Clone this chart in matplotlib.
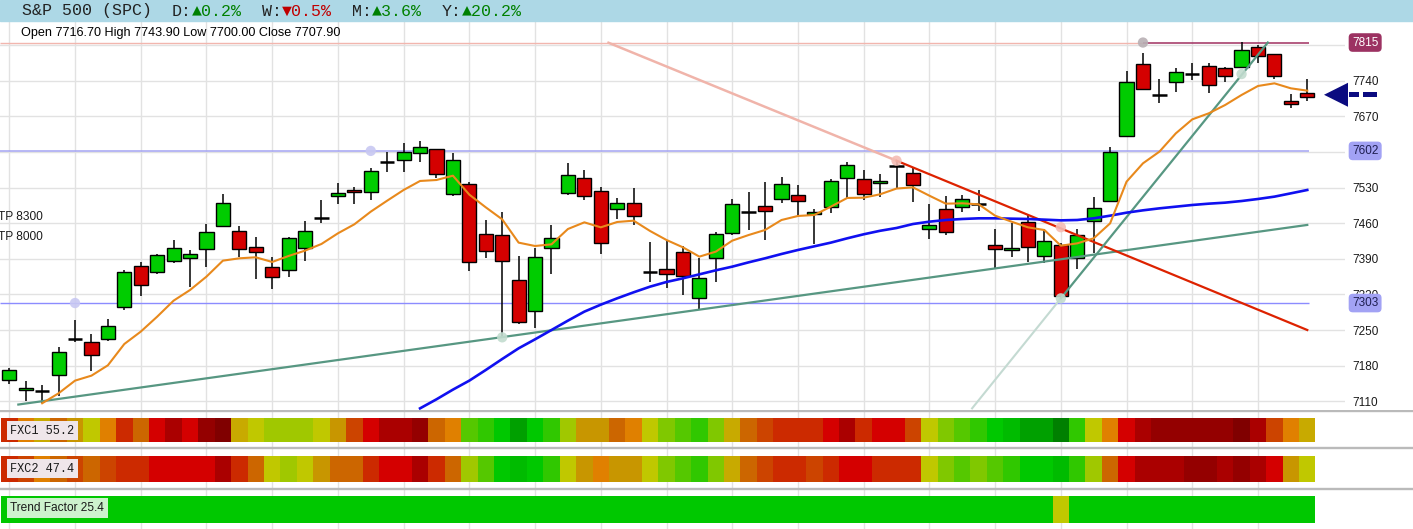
import numpy as np
import matplotlib
matplotlib.use("Agg")
import matplotlib.pyplot as plt
from matplotlib.patches import Rectangle, Polygon

W, H, DPI = 1413, 529, 100

# ---------------- data ----------------
opens = [7151.8, 7132.1, 7131.0, 7160.9, 7231.5, 7226.5, 7233.0, 7294.6, 7375.2, 7363.4,
         7385.0, 7390.9, 7408.6, 7453.8, 7443.9, 7412.5, 7373.2, 7367.3, 7410.5, 7470.8,
         7512.7, 7524.5, 7520.6, 7580.2, 7583.5, 7597.2, 7605.1, 7516.7, 7536.3, 7438.1,
         7436.1, 7347.6, 7286.7, 7410.5, 7519.3, 7548.1, 7522.6, 7487.2, 7499.0, 7363.4,
         7369.3, 7402.7, 7312.3, 7390.9, 7440.0, 7481.3, 7493.1, 7506.8, 7514.7, 7477.4,
         7491.1, 7548.1, 7546.1, 7538.3, 7572.3, 7557.9, 7447.8, 7487.2, 7491.1, 7497.6,
         7416.4, 7406.6, 7462.3, 7395.4, 7416.4, 7390.9, 7463.6, 7504.2, 7632.0, 7772.1,
         7712.5, 7736.7, 7752.5, 7768.2, 7765.6, 7766.9, 7806.9, 7791.8, 7700.1, 7716.7]
highs = [7174.7, 7149.8, 7142.0, 7216.6, 7269.7, 7242.2, 7271.7, 7368.0, 7383.7, 7399.4,
         7426.9, 7407.3, 7458.4, 7517.3, 7453.8, 7432.8, 7392.9, 7433.5, 7464.3, 7505.5,
         7538.9, 7531.7, 7569.1, 7600.5, 7616.9, 7620.8, 7606.5, 7598.6, 7540.9, 7466.2,
         7482.0, 7395.5, 7411.8, 7455.8, 7578.2, 7564.5, 7530.4, 7509.5, 7528.5, 7423.0,
         7425.6, 7415.8, 7392.2, 7442.6, 7507.5, 7521.3, 7540.9, 7550.7, 7535.0, 7487.8,
         7546.1, 7579.6, 7564.5, 7556.6, 7582.8, 7569.0, 7497.6, 7513.4, 7514.7, 7524.5,
         7448.5, 7461.0, 7476.0, 7447.8, 7420.3, 7447.8, 7510.7, 7609.0, 7759.0, 7793.7,
         7742.6, 7764.3, 7774.1, 7774.1, 7766.2, 7816.7, 7810.8, 7792.4, 7713.8, 7743.9]
lows = [7143.9, 7111.2, 7107.2, 7120.3, 7225.8, 7170.1, 7229.1, 7290.0, 7317.5, 7360.1,
        7382.4, 7335.2, 7373.2, 7451.8, 7393.5, 7350.9, 7331.3, 7354.9, 7386.3, 7461.0,
        7498.3, 7498.3, 7505.5, 7560.6, 7561.2, 7580.9, 7549.4, 7514.0, 7366.6, 7391.5,
        7235.6, 7262.5, 7254.6, 7360.8, 7514.7, 7506.2, 7400.1, 7467.5, 7457.1, 7345.0,
        7333.2, 7319.5, 7291.3, 7345.0, 7436.1, 7447.2, 7426.3, 7499.0, 7476.7, 7419.1,
        7479.3, 7508.8, 7504.9, 7512.1, 7527.8, 7502.2, 7429.5, 7437.4, 7482.6, 7483.9,
        7372.5, 7393.5, 7383.0, 7381.0, 7312.2, 7369.2, 7400.7, 7501.6, 7630.0, 7721.0,
        7696.8, 7718.4, 7741.3, 7716.4, 7738.1, 7765.6, 7775.4, 7743.3, 7686.3, 7700.0]
closes = [7171.4, 7136.0, 7131.0, 7206.8, 7231.5, 7200.2, 7257.2, 7363.4, 7337.8, 7396.8,
          7410.5, 7398.7, 7442.0, 7499.0, 7408.6, 7402.7, 7353.5, 7430.2, 7443.9, 7470.8,
          7518.6, 7520.6, 7561.9, 7580.2, 7599.2, 7609.0, 7556.6, 7583.5, 7383.0, 7404.6,
          7385.0, 7265.1, 7392.9, 7430.2, 7554.0, 7513.4, 7420.4, 7499.0, 7473.4, 7363.4,
          7359.4, 7356.8, 7351.6, 7438.1, 7497.0, 7481.3, 7483.3, 7536.3, 7502.9, 7481.3,
          7542.2, 7573.7, 7517.3, 7542.2, 7572.3, 7534.3, 7455.7, 7442.0, 7508.1, 7497.6,
          7408.5, 7410.5, 7412.5, 7425.6, 7316.2, 7436.1, 7489.1, 7599.2, 7736.7, 7724.3,
          7712.5, 7757.7, 7752.5, 7730.9, 7749.9, 7799.6, 7788.5, 7748.5, 7694.2, 7707.9]

nan = float("nan")
ma_fast = [nan, nan, 7106.0, 7125.6, 7150.5, 7160.3, 7180.6, 7222.5, 7246.8, 7276.2,
           7307.7, 7328.6, 7354.9, 7386.3, 7390.9, 7392.9, 7383.7, 7395.5, 7406.0, 7419.1,
           7440.0, 7457.7, 7482.6, 7504.2, 7525.2, 7542.9, 7544.8, 7553.3, 7516.0, 7491.1,
           7467.5, 7421.7, 7415.1, 7418.4, 7448.5, 7461.6, 7451.8, 7462.3, 7464.9, 7444.6,
           7426.9, 7412.5, 7394.2, 7404.0, 7425.6, 7436.7, 7446.6, 7466.2, 7474.1, 7476.1,
           7492.4, 7509.5, 7510.1, 7516.7, 7528.0, 7530.4, 7514.0, 7498.3, 7499.0, 7497.0,
           7474.7, 7462.9, 7451.8, 7446.5, 7415.7, 7420.3, 7430.2, 7459.6, 7541.5, 7577.6,
           7600.5, 7636.5, 7664.0, 7675.8, 7692.2, 7711.9, 7729.6, 7734.8, 7725.0, 7720.4]
ma_slow = [nan, nan, nan, nan, nan, nan, nan, nan, nan, nan,
           nan, nan, nan, nan, nan, nan, nan, nan, nan, nan,
           nan, nan, nan, nan, nan, 7096.0, 7113.8, 7132.8, 7150.5, 7171.4,
           7193.0, 7214.0, 7231.7, 7250.0, 7268.4, 7286.1, 7299.8, 7312.3, 7324.1, 7335.2,
           7344.4, 7351.6, 7359.4, 7367.3, 7374.5, 7383.0, 7390.9, 7399.4, 7407.3, 7414.5,
           7421.7, 7430.2, 7438.1, 7445.0, 7450.5, 7458.3, 7462.9, 7466.2, 7468.2, 7469.5,
           7469.5, 7468.8, 7468.2, 7466.9, 7465.5, 7466.2, 7469.5, 7474.7, 7480.6, 7485.2,
           7489.1, 7492.4, 7495.7, 7498.3, 7500.3, 7503.5, 7507.5, 7512.1, 7518.6, 7525.2]

# trend lines: (candle index, price) end points
support_x, support_y = [0.55, 79.0], [7103.5, 7456.5]
resist_ext_x, resist_ext_y = [36.4, 54.0], [7815.5, 7582.8]
resist_x, resist_y = [54.0, 79.0], [7582.8, 7250.0]
steep_ext_x, steep_ext_y = [58.6, 64.0], [7096.0, 7312.2]
steep_x, steep_y = [64.0, 76.6], [7312.2, 7815.0]

# horizontal levels
level_prices = [7815, 7602, 7303]
level_labels = ["7815", "7602", "7303"]
level_anchor = [69.0, 22.0, 4.0]

# anchor dots
dot_x = [4.0, 22.0, 30.0, 54.0, 64.0, 64.0, 69.0, 75.0]
dot_y = [7303, 7602, 7235.6, 7582.8, 7452.0, 7312.2, 7815, 7753.0]
dot_kind = ["lav", "lav", "grn", "pink", "pink", "grn", "gray", "grn"]

yticks = [7110, 7180, 7250, 7320, 7390, 7460, 7530, 7600, 7670, 7740, 7810]
ytick_labels = ["7110", "7180", "7250", "7320", "7390", "7460", "7530", "", "7670", "7740", ""]

# indicator strips (palette level per candle)
fxc1 = [4, 7, 9, 6, 8, 10, 7, 4, 6, 3, 2, 3, 1, 0, 9, 10, 11, 11, 11, 10,
        8, 5, 3, 2, 2, 1, 6, 7, 13, 14, 15, 17, 15, 14, 11, 8, 8, 6, 7, 10,
        12, 13, 14, 12, 9, 6, 5, 4, 4, 4, 3, 2, 4, 3, 3, 5, 10, 12, 13, 14,
        15, 16, 17, 17, 18, 14, 10, 7, 3, 2, 1, 1, 1, 1, 1, 0, 2, 5, 7, 9]
fxc2 = [4, 5, 7, 6, 5, 6, 5, 4, 4, 3, 3, 3, 3, 2, 4, 6, 10, 11, 10, 8,
        6, 6, 4, 3, 3, 2, 4, 6, 11, 13, 15, 16, 15, 14, 10, 8, 7, 8, 8, 10,
        12, 13, 14, 12, 9, 6, 5, 4, 4, 5, 4, 3, 3, 4, 4, 4, 10, 12, 13, 12,
        13, 14, 15, 15, 16, 14, 11, 6, 3, 2, 2, 2, 1, 1, 2, 1, 2, 3, 8, 10]
trend = [15, 15, 15, 15, 15, 15, 15, 15, 15, 15, 15, 15, 15, 15, 15, 15, 15, 15, 15, 15,
         15, 15, 15, 15, 15, 15, 15, 15, 15, 15, 15, 15, 15, 15, 15, 15, 15, 15, 15, 15,
         15, 15, 15, 15, 15, 15, 15, 15, 15, 15, 15, 15, 15, 15, 15, 15, 15, 15, 15, 15,
         15, 15, 15, 15, 10, 15, 15, 15, 15, 15, 15, 15, 15, 15, 15, 15, 15, 15, 15, 15]
strip_labels = ["FXC1 55.2", "FXC2 47.4", "Trend Factor 25.4"]

header_parts = [("S&P 500 (SPC)", "#222222"), ("D:", "#222222"), ("\u25b20.2%", "#008000"),
                ("W:", "#222222"), ("\u25bc0.5%", "#c00000"), ("M:", "#222222"),
                ("\u25b23.6%", "#008000"), ("Y:", "#222222"), ("\u25b220.2%", "#008000")]
header_cols = [0, 15, 17, 24, 26, 33, 35, 42, 44]
ohlc_text = "Open 7716.70 High 7743.90 Low 7700.00 Close 7707.90"
tp_labels = ["TP 8300", "TP 8000"]

# ---------------- style ----------------
palette = ["#800000", "#940000", "#aa0000", "#d40000", "#cc2a00", "#cc4400", "#cc6600",
           "#e08000", "#c89600", "#c8aa00", "#c0c800", "#a0c800", "#80c800", "#55c800",
           "#30c800", "#00c800", "#00bb00", "#00a000", "#008000"]
dot_colors = {"lav": "#c8c8f2", "grn": "#c2dccf", "pink": "#f4bcb4", "gray": "#b8b0b4"}
X0, STEP = 9.3, 16.43


def px2i(px):
    return (px - X0) / STEP


def rect(l, t, r, b):
    return [l / W, 1 - b / H, (r - l) / W, (b - t) / H]


fig = plt.figure(figsize=(W / DPI, H / DPI), dpi=DPI)
fig.patch.set_facecolor("white")

# ---------------- main price axes ----------------
ax = fig.add_axes(rect(0, 20.7, 1345, 410.7))
ax.set_xlim(px2i(0), px2i(1345))
ax.set_ylim(7091.4, 7857.9)
for s in ax.spines.values():
    s.set_visible(False)
ax.set_xticks(range(0, 80, 4))
ax.set_yticks(yticks)
ax.set_yticklabels(ytick_labels)
ax.grid(True, color="#e2e2e2", lw=1.0)
ax.set_axisbelow(True)
ax.tick_params(axis="x", length=0, labelbottom=False)
ax.yaxis.tick_right()
ax.tick_params(axis="y", length=0, pad=5, labelsize=8.5, labelcolor="#1a1a1a")
for lab in ax.get_yticklabels():
    lab.set_family("Liberation Sans")

n = len(opens)
idx = np.arange(n)
o = np.array(opens); c = np.array(closes); hi = np.array(highs); lo = np.array(lows)

# horizontal levels
ax.hlines(level_prices[0], px2i(0), level_anchor[0], color="#f2b6ae", lw=1.0, zorder=2)
ax.hlines(level_prices[0], level_anchor[0], 79.1, color="#a03060", lw=1.1, zorder=2)
ax.hlines(level_prices[1], px2i(0), 79.1, color="#a4a4f2", lw=1.1, zorder=2)
ax.hlines(level_prices[2], px2i(0), 79.1, color="#8c8cff", lw=1.0, zorder=2)

# pale extensions
ax.plot(resist_ext_x, resist_ext_y, color="#f0b4aa", lw=1.8, zorder=2.5, solid_capstyle="butt")
ax.plot(steep_ext_x, steep_ext_y, color="#c4dad2", lw=1.5, zorder=2.5)

# candles
ax.vlines(idx, lo, hi, color="black", lw=1.1, zorder=3)
doji = o == c
body = ~doji
ax.bar(idx[body], (c - o)[body], bottom=o[body], width=0.86,
       color=np.where(c[body] > o[body], "#00cc00", "#d40000"),
       edgecolor="black", linewidth=1.0, zorder=4)
ax.hlines(o[doji], idx[doji] - 0.44, idx[doji] + 0.44, color="black", lw=1.8, zorder=4)

# trend lines
ax.plot(support_x, support_y, color="#579782", lw=1.6, zorder=5)
ax.plot(resist_x, resist_y, color="#dd2200", lw=1.6, zorder=5)
ax.plot(steep_x, steep_y, color="#579782", lw=1.6, zorder=5)

# moving averages
ax.plot(idx, ma_slow, color="#1010f0", lw=1.9, zorder=6)
ax.plot(idx, ma_fast, color="#e8891c", lw=1.5, zorder=6)

# dots
ax.scatter(dot_x, dot_y, s=55, c=[dot_colors[k] for k in dot_kind], zorder=7,
           linewidths=0, alpha=0.9)

# level boxes on right
box_fc = ["#9c3262", "#a2a2f4", "#a2a2f4"]
box_tc = ["white", "#1e1e50", "#1e1e50"]
for p, t, fc, tc in zip(level_prices, level_labels, box_fc, box_tc):
    ax.text(1.0052, p, t, transform=ax.get_yaxis_transform(), ha="left", va="center",
            fontsize=8.5, family="Liberation Sans", color=tc, clip_on=False, zorder=10,
            bbox=dict(boxstyle="round,pad=0.28,rounding_size=0.35", fc=fc, ec="none"))

# ---------------- indicator strips ----------------
bx = fig.add_axes(rect(0, 409.5, 1413, 529))
bx.set_xlim(px2i(0), px2i(1413))
bx.set_ylim(529, 409.5)
bx.axis("off")
bx.vlines(range(0, 80, 4), 409.5, 529, color="#e2e2e2", lw=1.0, zorder=0)
strip_spans = [(418.0, 442.0), (456.0, 482.0), (496.0, 522.7)]
for levels, (top, bot) in zip([fxc1, fxc2, trend], strip_spans):
    bx.bar(idx, bot - top, bottom=top, width=1.0, color=[palette[v] for v in levels],
           linewidth=0, zorder=2)
bx.hlines([410.8, 448.5, 488.8], px2i(0), px2i(1413), color="#bababa", lw=1.7, zorder=3)

# ---------------- overlay (header, labels, arrow) ----------------
ov = fig.add_axes([0, 0, 1, 1], zorder=20)
ov.set_xlim(0, W)
ov.set_ylim(H, 0)
ov.axis("off")
ov.patch.set_alpha(0)

ov.add_patch(Rectangle((0, 0), W, 20.7, color="#add8e6", zorder=1))
for (txt, col), cpos in zip(header_parts, header_cols):
    ov.text(22 + 10.0 * cpos, 11.0, txt, color=col, fontsize=12,
            family=["Liberation Mono", "DejaVu Sans Mono"], ha="left", va="center", zorder=2)

ov.text(21, 32.7, ohlc_text, fontsize=9.1, family="Liberation Sans",
        color="black", ha="left", va="center")

for t, yy in zip(tp_labels, [216.7, 237.3]):
    ov.text(-2.5, yy, t, fontsize=8.6, family="Liberation Sans", color="#1a1a1a",
            ha="left", va="center")

lab_fc = ["#efe6ea", "#efe6ea", "#cdf2cd"]
lab_y = [430.5, 468.5, 508.0]
lab_family = ["Liberation Mono", "Liberation Mono", "Liberation Sans"]
lab_size = [8.6, 8.6, 8.6]
for t, yy, fc, fam, fs in zip(strip_labels, lab_y, lab_fc, lab_family, lab_size):
    ov.text(10.5, yy, t, fontsize=fs, family=fam, color="#1a1a1a", ha="left", va="center",
            bbox=dict(boxstyle="square,pad=0.3", fc=fc, ec="none"))

# current price arrow
mid_price = (opens[-1] + closes[-1]) / 2
ya = H - ax.transData.transform((0, mid_price))[1]
ov.add_patch(Polygon([(1324, ya), (1348, ya - 12), (1348, ya + 12)], closed=True,
                     color="#0b0b80", lw=0))
ov.add_patch(Rectangle((1349, ya - 2.3), 10, 4.6, color="#0b0b80", lw=0))
ov.add_patch(Rectangle((1363, ya - 2.3), 13.5, 4.6, color="#0b0b80", lw=0))

fig.savefig("out.png", dpi=DPI, facecolor="white")
